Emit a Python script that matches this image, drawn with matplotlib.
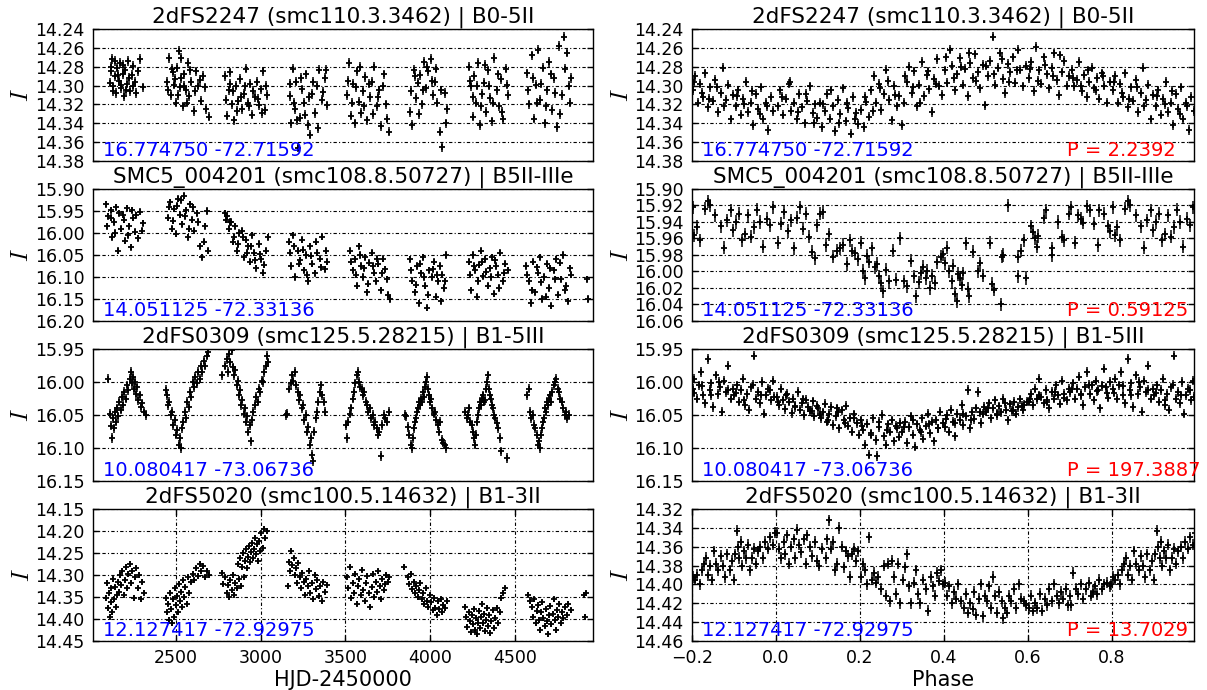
"""OGLE I-band light curves and phase-folded curves for four SMC B stars."""

import numpy as np
import matplotlib

matplotlib.use("Agg")
import matplotlib.pyplot as plt

plt.rcParams["font.family"] = ["DejaVu Sans"]
plt.rcParams["mathtext.fontset"] = "cm"

# ---------------------------------------------------------------------------
# 2dFS2247 (smc110.3.3462): (HJD-2450000, I) and (phase, I)
# ---------------------------------------------------------------------------
star1_lc = [
    (2112, 14.297), (2118, 14.285), (2125, 14.272), (2131, 14.301), (2140, 14.290), (2148, 14.308),
    (2155, 14.281), (2163, 14.295), (2170, 14.276), (2178, 14.303), (2186, 14.288), (2195, 14.311),
    (2203, 14.283), (2212, 14.298), (2220, 14.274), (2230, 14.306), (2240, 14.289), (2250, 14.279),
    (2262, 14.296), (2275, 14.285), (2290, 14.272), (2305, 14.302),
    (2115, 14.280), (2128, 14.306), (2144, 14.274), (2159, 14.289), (2174, 14.299), (2190, 14.278),
    (2208, 14.305), (2226, 14.292), (2245, 14.301), (2268, 14.308),
    (2450, 14.296), (2462, 14.271), (2470, 14.310), (2481, 14.286), (2490, 14.299), (2500, 14.318),
    (2508, 14.281), (2517, 14.263), (2525, 14.302), (2533, 14.292), (2541, 14.322), (2550, 14.288),
    (2560, 14.305), (2570, 14.276), (2580, 14.311), (2592, 14.296), (2605, 14.327), (2618, 14.285),
    (2632, 14.300), (2648, 14.316), (2662, 14.290), (2680, 14.325), (2693, 14.333),
    (2456, 14.305), (2476, 14.282), (2495, 14.293), (2512, 14.310), (2529, 14.271), (2546, 14.300),
    (2565, 14.318), (2586, 14.284), (2612, 14.306), (2640, 14.294), (2670, 14.302),
    (2790, 14.290), (2800, 14.332), (2812, 14.305), (2822, 14.286), (2833, 14.320), (2845, 14.337),
    (2856, 14.300), (2868, 14.316), (2880, 14.293), (2892, 14.325), (2904, 14.309), (2916, 14.282),
    (2928, 14.318), (2940, 14.298), (2952, 14.331), (2965, 14.312), (2978, 14.296), (2990, 14.321),
    (3002, 14.304), (3015, 14.285), (3028, 14.326), (3040, 14.310),
    (2795, 14.315), (2817, 14.298), (2838, 14.306), (2862, 14.327), (2886, 14.312), (2910, 14.301),
    (2934, 14.322), (2958, 14.306), (2984, 14.314), (3008, 14.329), (3034, 14.300),
    (3172, 14.311), (3180, 14.340), (3190, 14.282), (3200, 14.325), (3210, 14.296), (3222, 14.366),
    (3233, 14.334), (3245, 14.304), (3256, 14.318), (3268, 14.288), (3280, 14.342), (3292, 14.352),
    (3305, 14.309), (3318, 14.329), (3330, 14.300), (3345, 14.283), (3360, 14.315), (3378, 14.292),
    (3392, 14.321),
    (3176, 14.298), (3195, 14.318), (3216, 14.337), (3239, 14.292), (3262, 14.331), (3286, 14.312),
    (3311, 14.296), (3338, 14.345), (3368, 14.307), (3385, 14.283),
    (3510, 14.310), (3522, 14.276), (3533, 14.332), (3545, 14.298), (3556, 14.340), (3568, 14.285),
    (3580, 14.317), (3592, 14.329), (3605, 14.306), (3618, 14.291), (3630, 14.337), (3643, 14.312),
    (3656, 14.296), (3670, 14.280), (3684, 14.322), (3698, 14.305), (3712, 14.343), (3726, 14.288),
    (3740, 14.320), (3755, 14.349),
    (3516, 14.295), (3539, 14.318), (3562, 14.302), (3586, 14.280), (3611, 14.322), (3637, 14.298),
    (3663, 14.330), (3691, 14.312), (3719, 14.301), (3748, 14.335),
    (3880, 14.328), (3890, 14.342), (3902, 14.283), (3915, 14.313), (3928, 14.297), (3940, 14.289),
    (3952, 14.320), (3965, 14.275), (3978, 14.303), (3990, 14.285), (4002, 14.272), (4015, 14.310),
    (4028, 14.296), (4042, 14.318), (4056, 14.349), (4070, 14.365), (4085, 14.308), (4100, 14.325),
    (3885, 14.306), (3908, 14.290), (3934, 14.330), (3959, 14.305), (3984, 14.280), (4008, 14.295),
    (4035, 14.282), (4063, 14.305), (4092, 14.340),
    (4230, 14.280), (4240, 14.301), (4250, 14.333), (4260, 14.290), (4270, 14.318), (4280, 14.276),
    (4292, 14.342), (4304, 14.309), (4316, 14.297), (4328, 14.328), (4340, 14.284), (4352, 14.313),
    (4365, 14.338), (4378, 14.271), (4392, 14.305), (4405, 14.322), (4418, 14.293), (4432, 14.336),
    (4446, 14.282), (4460, 14.310),
    (4235, 14.295), (4255, 14.312), (4275, 14.300), (4298, 14.322), (4322, 14.278), (4346, 14.300),
    (4371, 14.318), (4398, 14.288), (4425, 14.328), (4453, 14.299),
    (4570, 14.287), (4585, 14.320), (4600, 14.268), (4612, 14.335), (4625, 14.299), (4638, 14.262),
    (4650, 14.315), (4663, 14.281), (4676, 14.340), (4690, 14.305), (4703, 14.275), (4716, 14.326),
    (4730, 14.292), (4745, 14.344), (4760, 14.258), (4775, 14.310), (4790, 14.248), (4805, 14.265),
    (4820, 14.300), (4832, 14.292),
    (4577, 14.305), (4605, 14.292), (4630, 14.318), (4656, 14.298), (4683, 14.322), (4710, 14.288),
    (4738, 14.308), (4767, 14.330), (4797, 14.282), (4826, 14.318),
]
star1_fold = [
    (0.004, 14.322), (0.010, 14.305), (0.017, 14.331), (0.023, 14.314), (0.030, 14.298), (0.036, 14.327),
    (0.042, 14.318), (0.049, 14.336), (0.055, 14.309), (0.061, 14.323), (0.068, 14.340), (0.074, 14.316),
    (0.080, 14.301), (0.087, 14.329), (0.093, 14.320), (0.098, 14.334),
    (0.104, 14.318), (0.110, 14.344), (0.116, 14.327), (0.122, 14.309), (0.129, 14.335), (0.135, 14.322),
    (0.141, 14.348), (0.147, 14.315), (0.153, 14.330), (0.160, 14.303), (0.166, 14.338), (0.172, 14.324),
    (0.178, 14.351), (0.184, 14.312), (0.190, 14.329), (0.196, 14.341),
    (0.203, 14.326), (0.209, 14.344), (0.215, 14.317), (0.221, 14.333), (0.227, 14.305), (0.233, 14.290),
    (0.239, 14.318), (0.245, 14.298), (0.251, 14.326), (0.257, 14.309), (0.263, 14.283), (0.269, 14.315),
    (0.275, 14.337), (0.281, 14.300), (0.287, 14.322), (0.293, 14.311), (0.299, 14.342),
    (0.305, 14.318), (0.311, 14.296), (0.317, 14.280), (0.323, 14.308), (0.329, 14.285), (0.335, 14.322),
    (0.341, 14.299), (0.347, 14.275), (0.353, 14.311), (0.359, 14.289), (0.365, 14.304), (0.371, 14.328),
    (0.377, 14.293), (0.383, 14.272), (0.389, 14.300), (0.395, 14.310),
    (0.402, 14.284), (0.408, 14.297), (0.414, 14.262), (0.420, 14.279), (0.426, 14.305), (0.432, 14.288),
    (0.438, 14.271), (0.444, 14.299), (0.450, 14.282), (0.456, 14.311), (0.462, 14.276), (0.468, 14.292),
    (0.474, 14.267), (0.480, 14.286), (0.486, 14.303), (0.492, 14.278), (0.498, 14.321),
    (0.504, 14.290), (0.510, 14.274), (0.516, 14.248), (0.522, 14.299), (0.528, 14.281), (0.534, 14.265),
    (0.540, 14.293), (0.546, 14.308), (0.552, 14.277), (0.558, 14.286), (0.564, 14.270), (0.570, 14.297),
    (0.576, 14.262), (0.582, 14.283), (0.588, 14.301), (0.594, 14.279),
    (0.602, 14.292), (0.608, 14.275), (0.614, 14.306), (0.620, 14.259), (0.626, 14.284), (0.632, 14.298),
    (0.638, 14.270), (0.644, 14.288), (0.650, 14.303), (0.656, 14.281), (0.662, 14.266), (0.668, 14.294),
    (0.674, 14.310), (0.680, 14.286), (0.686, 14.274), (0.692, 14.300), (0.698, 14.290),
    (0.704, 14.283), (0.710, 14.301), (0.716, 14.294), (0.722, 14.275), (0.728, 14.306), (0.734, 14.289),
    (0.740, 14.312), (0.746, 14.296), (0.752, 14.281), (0.758, 14.303), (0.764, 14.292), (0.770, 14.314),
    (0.776, 14.287), (0.782, 14.300), (0.788, 14.318), (0.794, 14.296),
    (0.802, 14.305), (0.808, 14.290), (0.814, 14.318), (0.820, 14.298), (0.826, 14.312), (0.832, 14.287),
    (0.838, 14.323), (0.844, 14.302), (0.850, 14.316), (0.856, 14.294), (0.862, 14.328), (0.868, 14.308),
    (0.874, 14.281), (0.880, 14.315), (0.886, 14.299), (0.892, 14.336), (0.898, 14.310),
    (0.904, 14.322), (0.910, 14.305), (0.916, 14.331), (0.922, 14.314), (0.928, 14.296), (0.934, 14.328),
    (0.940, 14.318), (0.946, 14.342), (0.952, 14.309), (0.958, 14.325), (0.964, 14.302), (0.970, 14.336),
    (0.976, 14.318), (0.982, 14.347), (0.988, 14.312), (0.994, 14.327),
    (0.014, 14.312), (0.033, 14.296), (0.052, 14.328), (0.071, 14.309), (0.090, 14.340),
    (0.113, 14.320), (0.132, 14.305), (0.151, 14.340), (0.169, 14.318), (0.188, 14.335),
    (0.212, 14.312), (0.230, 14.327), (0.248, 14.303), (0.266, 14.295), (0.284, 14.310),
    (0.308, 14.290), (0.326, 14.302), (0.344, 14.318), (0.362, 14.285), (0.380, 14.298),
    (0.405, 14.270), (0.423, 14.292), (0.441, 14.280), (0.459, 14.266), (0.477, 14.295),
    (0.501, 14.279), (0.519, 14.288), (0.537, 14.272), (0.555, 14.296), (0.573, 14.284),
    (0.605, 14.282), (0.623, 14.295), (0.641, 14.278), (0.659, 14.290), (0.677, 14.268),
    (0.707, 14.292), (0.725, 14.300), (0.743, 14.284), (0.761, 14.305), (0.779, 14.290),
    (0.805, 14.296), (0.823, 14.308), (0.841, 14.314), (0.859, 14.302), (0.877, 14.322),
    (0.907, 14.311), (0.925, 14.320), (0.943, 14.306), (0.961, 14.330), (0.979, 14.322),
]

# ---------------------------------------------------------------------------
# SMC5_004201 (smc108.8.50727)
# ---------------------------------------------------------------------------
star2_lc = [
    (2090, 15.935), (2102, 15.962), (2115, 15.948), (2126, 16.010), (2138, 15.975), (2150, 15.942),
    (2162, 16.040), (2174, 15.990), (2186, 15.958), (2198, 16.018), (2210, 15.944), (2222, 15.985),
    (2235, 16.032), (2248, 15.965), (2262, 15.997), (2276, 16.012), (2290, 15.952), (2305, 15.978),
    (2096, 15.985), (2120, 15.965), (2144, 16.000), (2168, 15.955), (2192, 15.970), (2216, 16.005),
    (2242, 15.948), (2268, 15.960), (2298, 15.995),
    (2452, 15.965), (2465, 15.930), (2476, 15.990), (2488, 15.945), (2500, 16.002), (2512, 15.922),
    (2524, 15.958), (2536, 15.980), (2548, 15.915), (2560, 15.948), (2572, 16.010), (2584, 15.935),
    (2596, 15.970), (2610, 15.995), (2625, 15.955), (2640, 16.030), (2656, 16.055), (2672, 15.985),
    (2690, 16.040),
    (2458, 15.940), (2482, 15.972), (2506, 15.938), (2530, 15.925), (2554, 15.962), (2578, 15.990),
    (2603, 15.942), (2632, 15.975), (2664, 16.020), (2682, 15.950),
    (2788, 15.955), (2800, 15.962), (2812, 15.990), (2825, 15.975), (2838, 16.020), (2850, 15.985),
    (2862, 16.040), (2875, 16.000), (2888, 15.995), (2900, 16.055), (2912, 16.015), (2925, 16.030),
    (2938, 16.065), (2950, 16.005), (2962, 16.045), (2975, 16.080), (2988, 16.025), (3000, 16.060),
    (3015, 16.090), (3030, 16.040), (3042, 16.010),
    (2794, 15.970), (2818, 15.975), (2843, 16.008), (2869, 16.025), (2894, 16.010), (2918, 16.045),
    (2944, 16.030), (2968, 16.062), (2994, 16.048), (3022, 16.072),
    (3168, 16.020), (3180, 16.075), (3192, 16.005), (3205, 16.100), (3218, 16.040), (3230, 16.062),
    (3242, 16.015), (3255, 16.085), (3268, 16.050), (3280, 16.110), (3292, 16.030), (3305, 16.070),
    (3320, 16.092), (3335, 16.045), (3350, 16.058), (3365, 16.008), (3380, 16.082), (3392, 16.065),
    (3174, 16.045), (3198, 16.030), (3224, 16.070), (3248, 16.038), (3274, 16.095), (3298, 16.052),
    (3328, 16.020), (3358, 16.078), (3386, 16.040),
    (3530, 16.040), (3542, 16.085), (3555, 16.060), (3568, 16.120), (3580, 16.030), (3592, 16.075),
    (3605, 16.100), (3618, 16.055), (3630, 16.135), (3642, 16.068), (3655, 16.045), (3668, 16.090),
    (3680, 16.110), (3694, 16.070), (3708, 16.130), (3722, 16.058), (3736, 16.082), (3750, 16.140),
    (3762, 16.150),
    (3536, 16.065), (3561, 16.095), (3586, 16.050), (3612, 16.080), (3636, 16.115), (3661, 16.075),
    (3688, 16.058), (3715, 16.092), (3743, 16.105),
    (3882, 16.060), (3895, 16.108), (3908, 16.135), (3920, 16.075), (3932, 16.160), (3945, 16.092),
    (3958, 16.055), (3970, 16.120), (3982, 16.170), (3995, 16.085), (4008, 16.100), (4020, 16.065),
    (4032, 16.145), (4045, 16.110), (4058, 16.075), (4070, 16.095), (4082, 16.125), (4095, 16.050),
    (3888, 16.085), (3914, 16.118), (3939, 16.070), (3964, 16.100), (3989, 16.140), (4014, 16.082),
    (4039, 16.095), (4064, 16.155), (4089, 16.110),
    (4228, 16.065), (4240, 16.130), (4252, 16.050), (4264, 16.085), (4276, 16.145), (4288, 16.072),
    (4300, 16.040), (4312, 16.098), (4325, 16.060), (4338, 16.120), (4350, 16.080), (4362, 16.055),
    (4375, 16.138), (4388, 16.075), (4400, 16.095), (4414, 16.045), (4428, 16.110), (4442, 16.070),
    (4456, 16.085),
    (4234, 16.095), (4258, 16.075), (4282, 16.110), (4306, 16.065), (4331, 16.088), (4356, 16.100),
    (4381, 16.062), (4407, 16.125), (4435, 16.090),
    (4566, 16.075), (4580, 16.110), (4595, 16.160), (4608, 16.065), (4620, 16.135), (4633, 16.090),
    (4646, 16.055), (4660, 16.150), (4674, 16.100), (4688, 16.070), (4700, 16.125), (4714, 16.165),
    (4728, 16.085), (4742, 16.060), (4756, 16.140), (4770, 16.105), (4785, 16.050), (4800, 16.120),
    (4815, 16.155), (4830, 16.095), (4925, 16.105), (4928, 16.150),
    (4573, 16.095), (4601, 16.130), (4627, 16.078), (4653, 16.112), (4681, 16.145), (4707, 16.080),
    (4735, 16.105), (4763, 16.068), (4792, 16.130), (4822, 16.080),
]
star2_fold = [
    (0.005, 15.965), (0.012, 15.942), (0.020, 15.928), (0.028, 15.951), (0.035, 15.938), (0.043, 15.972),
    (0.050, 15.935), (0.056, 15.922), (0.064, 15.948), (0.071, 15.930), (0.078, 15.958), (0.086, 15.976),
    (0.092, 15.984), (0.098, 15.944),
    (0.105, 15.930), (0.112, 15.928), (0.118, 15.968), (0.126, 15.955), (0.135, 15.982), (0.145, 15.975),
    (0.152, 15.972), (0.160, 15.968), (0.168, 15.991), (0.175, 15.962), (0.182, 15.975), (0.188, 15.978),
    (0.195, 15.985),
    (0.202, 15.965), (0.208, 15.999), (0.212, 16.008), (0.216, 15.981), (0.222, 15.988), (0.228, 15.972),
    (0.236, 15.995), (0.241, 15.991), (0.246, 16.006), (0.250, 16.014), (0.255, 16.024), (0.262, 15.998),
    (0.270, 16.012), (0.279, 15.975), (0.286, 16.010), (0.295, 15.960),
    (0.305, 16.012), (0.312, 16.018), (0.322, 15.987), (0.328, 16.006), (0.333, 16.030), (0.340, 16.013),
    (0.345, 16.002), (0.350, 15.994), (0.356, 16.008), (0.360, 15.999), (0.366, 16.020), (0.372, 16.005),
    (0.378, 16.014), (0.384, 15.989), (0.392, 15.982), (0.398, 15.979),
    (0.403, 15.990), (0.408, 15.971), (0.412, 16.000), (0.418, 16.012), (0.421, 15.993), (0.426, 16.027),
    (0.430, 16.036), (0.434, 16.003), (0.438, 16.008), (0.442, 16.016), (0.446, 16.002), (0.452, 15.966),
    (0.456, 16.021), (0.460, 16.030), (0.468, 15.976), (0.480, 16.000), (0.485, 15.990), (0.492, 16.005),
    (0.510, 15.965), (0.514, 16.015), (0.518, 16.022), (0.535, 16.040), (0.538, 15.982), (0.540, 15.980),
    (0.552, 15.920), (0.575, 16.006), (0.576, 15.982), (0.584, 15.975), (0.590, 15.962), (0.596, 16.008),
    (0.608, 15.945), (0.612, 15.952), (0.616, 15.960), (0.621, 15.970), (0.624, 15.957), (0.638, 15.935),
    (0.643, 15.926), (0.656, 15.972), (0.657, 15.980), (0.672, 15.940), (0.680, 15.958), (0.685, 15.962),
    (0.698, 15.930),
    (0.702, 15.922), (0.712, 15.965), (0.718, 15.932), (0.726, 15.936), (0.732, 15.941), (0.740, 15.921),
    (0.748, 15.926), (0.756, 15.942), (0.766, 15.968), (0.770, 15.926), (0.782, 15.930), (0.790, 15.945),
    (0.795, 15.951),
    (0.802, 15.922), (0.806, 15.956), (0.812, 15.946), (0.820, 15.962), (0.830, 15.924), (0.838, 15.915),
    (0.843, 15.920), (0.856, 15.932), (0.868, 15.945), (0.876, 15.971), (0.884, 15.938), (0.892, 15.926),
    (0.898, 15.950),
    (0.905, 15.940), (0.912, 15.930), (0.920, 15.962), (0.926, 15.955), (0.933, 15.932), (0.940, 15.958),
    (0.948, 15.946), (0.955, 15.925), (0.962, 15.940), (0.970, 15.970), (0.978, 15.936), (0.985, 15.944),
    (0.992, 15.922),
]

# ---------------------------------------------------------------------------
# 2dFS0309 (smc125.5.28215)
# ---------------------------------------------------------------------------
star3_lc = [
    (2099, 15.995), (2110, 16.048), (2116, 16.066), (2122, 16.085), (2128, 16.055), (2134, 16.070),
    (2140, 16.045), (2146, 16.060), (2153, 16.040), (2160, 16.052), (2167, 16.030), (2174, 16.042),
    (2181, 16.022), (2188, 16.035), (2196, 16.015), (2204, 16.025), (2212, 16.005), (2220, 16.012),
    (2228, 15.995), (2234, 15.985), (2240, 16.002), (2246, 15.992), (2252, 16.010), (2258, 16.000),
    (2264, 16.018), (2270, 16.008), (2278, 16.028), (2286, 16.020), (2294, 16.038), (2302, 16.032),
    (2312, 16.045), (2322, 16.050),
    (2440, 16.012), (2447, 16.020), (2454, 16.035), (2462, 16.030), (2470, 16.050), (2478, 16.045),
    (2486, 16.065), (2494, 16.058), (2502, 16.080), (2510, 16.072), (2518, 16.095), (2524, 16.085),
    (2530, 16.100), (2538, 16.070), (2545, 16.060), (2552, 16.045), (2560, 16.055), (2568, 16.030),
    (2576, 16.038), (2584, 16.015), (2592, 16.022), (2600, 16.000), (2608, 16.008), (2616, 15.992),
    (2624, 16.002), (2632, 15.985), (2640, 15.995), (2648, 15.975), (2656, 15.985), (2664, 15.968),
    (2672, 15.975), (2682, 15.960), (2692, 15.955),
    (2770, 15.990), (2790, 15.975), (2800, 15.965), (2808, 15.985), (2815, 15.958), (2822, 15.970),
    (2830, 15.952), (2837, 15.978), (2844, 15.990), (2851, 15.982), (2858, 16.005), (2865, 15.998),
    (2872, 16.020), (2879, 16.012), (2886, 16.035), (2893, 16.028), (2900, 16.048), (2907, 16.040),
    (2914, 16.060), (2921, 16.052), (2928, 16.075), (2935, 16.065), (2942, 16.090), (2950, 16.058),
    (2958, 16.045), (2966, 16.035), (2974, 16.022), (2982, 16.030), (2990, 16.010), (2998, 16.015),
    (3006, 15.998), (3014, 16.000), (3022, 15.985), (3030, 15.975), (3038, 15.960), (3045, 15.970),
    (3150, 16.050), (3158, 16.048), (3170, 16.010), (3178, 16.002), (3186, 15.990), (3194, 15.998),
    (3202, 15.985), (3210, 16.005), (3218, 16.015), (3226, 16.028), (3234, 16.020), (3242, 16.040),
    (3250, 16.035), (3258, 16.058), (3266, 16.050), (3274, 16.075), (3282, 16.068), (3290, 16.095),
    (3296, 16.085), (3302, 16.110), (3308, 16.120), (3316, 16.075), (3324, 16.055), (3332, 16.045),
    (3340, 16.030), (3348, 16.015), (3356, 16.005), (3364, 16.020), (3372, 16.030), (3380, 16.045),
    (3505, 16.065), (3510, 16.085), (3518, 16.060), (3526, 16.048), (3534, 16.040), (3542, 16.025),
    (3550, 16.015), (3558, 16.002), (3566, 15.990), (3572, 15.985), (3580, 16.000), (3588, 16.008),
    (3596, 16.010), (3604, 16.020), (3612, 16.015), (3620, 16.030), (3628, 16.035), (3636, 16.045),
    (3644, 16.040), (3652, 16.055), (3660, 16.050), (3668, 16.065), (3676, 16.060), (3684, 16.070),
    (3692, 16.080), (3700, 16.075), (3708, 16.112), (3716, 16.065), (3726, 16.050), (3736, 16.055),
    (3748, 16.060), (3760, 16.045),
    (3850, 16.050), (3860, 16.052), (3870, 16.068), (3878, 16.080), (3884, 16.095), (3890, 16.100),
    (3896, 16.085), (3902, 16.070), (3908, 16.060), (3914, 16.055), (3920, 16.045), (3926, 16.040),
    (3932, 16.030), (3938, 16.035), (3944, 16.025), (3950, 16.030), (3956, 16.015), (3962, 16.022),
    (3968, 16.008), (3974, 16.000), (3980, 15.992), (3986, 16.010), (3992, 16.020), (3998, 16.030),
    (4004, 16.025), (4012, 16.040), (4020, 16.048), (4028, 16.045), (4036, 16.058), (4044, 16.065),
    (4052, 16.075), (4060, 16.060), (4068, 16.088), (4076, 16.092), (4085, 16.095), (4092, 16.100),
    (4208, 16.045), (4215, 16.055), (4222, 16.050), (4228, 16.040), (4236, 16.060), (4244, 16.065),
    (4250, 16.075), (4256, 16.085), (4262, 16.095), (4268, 16.080), (4274, 16.060), (4280, 16.050),
    (4286, 16.040), (4292, 16.030), (4298, 16.035), (4304, 16.025), (4310, 16.020), (4316, 16.030),
    (4322, 16.028), (4328, 16.010), (4334, 16.000), (4340, 15.990), (4346, 16.010), (4352, 16.020),
    (4358, 16.025), (4364, 16.035), (4370, 16.040), (4376, 16.050), (4384, 16.055), (4392, 16.062),
    (4400, 16.070), (4410, 16.085), (4420, 16.105), (4450, 16.115),
    (4570, 16.020), (4580, 16.010), (4588, 16.045), (4596, 16.055), (4604, 16.050), (4612, 16.065),
    (4620, 16.070), (4628, 16.080), (4636, 16.095), (4642, 16.090), (4648, 16.100), (4654, 16.080),
    (4660, 16.070), (4666, 16.060), (4672, 16.055), (4678, 16.040), (4684, 16.045), (4690, 16.030),
    (4696, 16.035), (4702, 16.025), (4708, 16.020), (4714, 16.030), (4720, 16.015), (4728, 16.005),
    (4736, 16.000), (4744, 15.995), (4752, 16.010), (4760, 16.015), (4768, 16.025), (4776, 16.030),
    (4784, 16.040), (4792, 16.050), (4800, 16.045), (4808, 16.055), (4818, 16.050),
]
star3_fold_phase = [
    0.002, 0.007, 0.011, 0.016, 0.022, 0.026, 0.031, 0.037, 0.041, 0.046,
    0.052, 0.057, 0.061, 0.067, 0.072, 0.076, 0.082, 0.087, 0.091, 0.097,
    0.101, 0.106, 0.112, 0.117, 0.121, 0.127, 0.132, 0.136, 0.142, 0.147,
    0.151, 0.156, 0.162, 0.167, 0.171, 0.177, 0.182, 0.186, 0.192, 0.197,
    0.202, 0.206, 0.211, 0.217, 0.222, 0.226, 0.232, 0.237, 0.241, 0.246,
    0.252, 0.257, 0.261, 0.267, 0.272, 0.276, 0.281, 0.287, 0.292, 0.296,
    0.301, 0.307, 0.312, 0.316, 0.321, 0.327, 0.332, 0.336, 0.342, 0.347,
    0.351, 0.356, 0.362, 0.367, 0.371, 0.377, 0.382, 0.386, 0.391, 0.397,
    0.402, 0.406, 0.411, 0.417, 0.422, 0.426, 0.431, 0.437, 0.442, 0.446,
    0.452, 0.457, 0.461, 0.466, 0.472, 0.477, 0.481, 0.487, 0.492, 0.496,
    0.501, 0.507, 0.512, 0.516, 0.521, 0.527, 0.532, 0.536, 0.541, 0.547,
    0.552, 0.556, 0.562, 0.567, 0.571, 0.576, 0.582, 0.587, 0.591, 0.597,
    0.602, 0.606, 0.611, 0.617, 0.622, 0.626, 0.631, 0.637, 0.642, 0.646,
    0.651, 0.657, 0.662, 0.666, 0.672, 0.677, 0.681, 0.686, 0.692, 0.697,
    0.701, 0.707, 0.712, 0.716, 0.721, 0.727, 0.732, 0.736, 0.741, 0.747,
    0.752, 0.756, 0.761, 0.767, 0.772, 0.776, 0.782, 0.787, 0.791, 0.796,
    0.802, 0.806, 0.811, 0.817, 0.822, 0.826, 0.831, 0.837, 0.842, 0.846,
    0.851, 0.857, 0.862, 0.866, 0.871, 0.877, 0.882, 0.886, 0.892, 0.897,
    0.901, 0.907, 0.912, 0.916, 0.921, 0.927, 0.932, 0.936, 0.941, 0.947,
    0.952, 0.956, 0.961, 0.967, 0.972, 0.976, 0.981, 0.987, 0.992, 0.996,
    0.005, 0.025, 0.045, 0.065, 0.085, 0.105, 0.125, 0.145, 0.165, 0.185,
    0.205, 0.225, 0.245, 0.265, 0.285, 0.305, 0.325, 0.345, 0.365, 0.385,
    0.405, 0.425, 0.445, 0.465, 0.485, 0.505, 0.525, 0.545, 0.565, 0.585,
    0.605, 0.625, 0.645, 0.665, 0.685, 0.705, 0.725, 0.745, 0.765, 0.785,
    0.805, 0.825, 0.845, 0.865, 0.885, 0.905, 0.925, 0.945, 0.965, 0.985,
]
star3_fold_mag = [
    16.022, 16.035, 16.010, 16.028, 16.041, 16.018, 16.030, 16.047, 16.025, 16.036,
    16.015, 16.042, 16.032, 16.050, 16.027, 16.038, 16.044, 16.029, 16.052, 16.036,
    16.040, 16.055, 16.046, 16.033, 16.060, 16.048, 16.038, 16.065, 16.052, 16.045,
    16.070, 16.043, 16.058, 16.036, 16.066, 16.054, 16.075, 16.049, 16.062, 16.080,
    16.058, 16.072, 16.095, 16.063, 16.110, 16.078, 16.055, 16.088, 16.112, 16.068,
    16.050, 16.082, 16.095, 16.064, 16.075, 16.058, 16.090, 16.070, 16.083, 16.062,
    16.075, 16.060, 16.092, 16.068, 16.052, 16.080, 16.098, 16.064, 16.072, 16.055,
    16.086, 16.066, 16.048, 16.078, 16.060, 16.090, 16.058, 16.070, 16.045, 16.062,
    16.068, 16.050, 16.075, 16.042, 16.060, 16.082, 16.048, 16.058, 16.035, 16.065,
    16.052, 16.012, 16.070, 16.045, 16.056, 16.040, 16.015, 16.062, 16.048, 16.038,
    16.045, 16.032, 16.055, 16.040, 16.028, 16.050, 16.037, 16.046, 16.025, 16.042,
    16.058, 16.034, 16.044, 16.030, 16.048, 16.038, 16.026, 16.042, 16.035, 16.030,
    16.030, 16.018, 16.035, 16.010, 16.026, 15.995, 16.022, 16.032, 16.012, 16.028,
    16.040, 16.015, 16.025, 16.005, 16.020, 16.033, 15.998, 16.018, 16.028, 16.010,
    16.015, 16.002, 16.025, 16.010, 15.992, 16.020, 16.035, 16.008, 15.985, 16.018,
    16.005, 16.028, 15.998, 16.012, 16.040, 16.006, 15.980, 16.016, 16.024, 16.000,
    16.010, 15.995, 16.025, 16.005, 15.985, 16.020, 16.032, 15.965, 16.012, 16.002,
    16.038, 15.990, 16.018, 16.008, 16.045, 15.998, 16.015, 15.975, 16.025, 16.010,
    16.020, 16.005, 16.030, 16.012, 15.995, 16.035, 16.018, 16.042, 16.008, 15.960,
    16.025, 16.015, 16.032, 16.000, 16.048, 16.020, 16.010, 16.028, 15.998, 16.022,
    16.030, 16.020, 16.038, 16.026, 16.044, 16.048, 16.058, 16.040, 16.062, 16.055,
    16.066, 16.080, 16.060, 16.072, 16.066, 16.068, 16.058, 16.076, 16.064, 16.070,
    16.056, 16.062, 16.048, 16.058, 16.046, 16.040, 16.048, 16.032, 16.042, 16.036,
    16.025, 16.020, 16.030, 16.015, 16.024, 16.010, 16.018, 16.004, 16.014, 16.008,
    16.016, 16.006, 16.020, 16.000, 16.012, 16.016, 16.028, 16.004, 16.020, 16.012,
]

# ---------------------------------------------------------------------------
# 2dFS5020 (smc100.5.14632)
# ---------------------------------------------------------------------------
star4_lc = [
    (2090, 14.352), (2095, 14.318), (2100, 14.375), (2105, 14.340), (2110, 14.395), (2115, 14.362),
    (2120, 14.330), (2125, 14.385), (2130, 14.310), (2136, 14.355), (2142, 14.328), (2148, 14.372),
    (2154, 14.345), (2160, 14.315), (2166, 14.338), (2172, 14.300), (2178, 14.322), (2185, 14.290),
    (2192, 14.345), (2198, 14.312), (2205, 14.282), (2212, 14.330), (2220, 14.298), (2228, 14.275),
    (2236, 14.318), (2244, 14.290), (2252, 14.352), (2260, 14.305), (2268, 14.285), (2276, 14.330),
    (2284, 14.300), (2292, 14.355), (2300, 14.315), (2310, 14.340),
    (2440, 14.352), (2446, 14.385), (2452, 14.365), (2458, 14.402), (2464, 14.340), (2470, 14.378),
    (2476, 14.410), (2482, 14.355), (2488, 14.395), (2494, 14.330), (2500, 14.368), (2506, 14.348),
    (2512, 14.385), (2518, 14.320), (2524, 14.360), (2530, 14.338), (2536, 14.372), (2542, 14.312),
    (2548, 14.350), (2556, 14.328), (2564, 14.365), (2572, 14.305), (2580, 14.340), (2590, 14.315),
    (2600, 14.298), (2610, 14.312), (2620, 14.285), (2630, 14.302), (2640, 14.275), (2650, 14.292),
    (2660, 14.280), (2672, 14.305), (2684, 14.290), (2694, 14.300),
    (2770, 14.295), (2780, 14.320), (2790, 14.305), (2800, 14.340), (2808, 14.322), (2815, 14.350),
    (2822, 14.312), (2830, 14.335), (2838, 14.300), (2845, 14.345), (2852, 14.318), (2860, 14.330),
    (2866, 14.275), (2872, 14.310), (2878, 14.262), (2884, 14.325), (2890, 14.282), (2896, 14.250),
    (2902, 14.305), (2908, 14.268), (2914, 14.240), (2920, 14.285), (2926, 14.258), (2932, 14.235),
    (2938, 14.270), (2944, 14.248), (2950, 14.228), (2956, 14.262), (2962, 14.240), (2968, 14.215),
    (2974, 14.252), (2980, 14.230), (2986, 14.268), (2992, 14.222), (2998, 14.245), (3005, 14.205),
    (3012, 14.238), (3020, 14.195), (3028, 14.215), (3036, 14.200),
    (3160, 14.325), (3168, 14.270), (3175, 14.292), (3182, 14.245), (3188, 14.278), (3195, 14.262),
    (3202, 14.300), (3208, 14.285), (3215, 14.318), (3222, 14.272), (3230, 14.305), (3238, 14.330),
    (3246, 14.295), (3254, 14.315), (3262, 14.345), (3270, 14.308), (3278, 14.325), (3286, 14.290),
    (3294, 14.340), (3302, 14.318), (3310, 14.355), (3318, 14.300), (3326, 14.332), (3334, 14.312),
    (3342, 14.348), (3350, 14.325), (3360, 14.360), (3370, 14.315), (3380, 14.338), (3392, 14.322),
    (3510, 14.305), (3518, 14.330), (3526, 14.282), (3534, 14.352), (3542, 14.318), (3550, 14.340),
    (3558, 14.298), (3566, 14.365), (3574, 14.325), (3582, 14.310), (3590, 14.345), (3598, 14.288),
    (3606, 14.335), (3614, 14.360), (3622, 14.318), (3630, 14.302), (3638, 14.342), (3646, 14.372),
    (3654, 14.328), (3662, 14.298), (3670, 14.350), (3678, 14.315), (3686, 14.338), (3694, 14.292),
    (3702, 14.325), (3710, 14.355), (3718, 14.308), (3726, 14.335), (3734, 14.320), (3742, 14.300),
    (3750, 14.315), (3760, 14.305),
    (3848, 14.282), (3870, 14.305), (3878, 14.320), (3886, 14.298), (3894, 14.332), (3902, 14.315),
    (3910, 14.340), (3918, 14.325), (3926, 14.350), (3934, 14.335), (3942, 14.318), (3950, 14.355),
    (3958, 14.342), (3966, 14.365), (3974, 14.330), (3982, 14.358), (3990, 14.372), (3998, 14.345),
    (4006, 14.362), (4014, 14.380), (4022, 14.352), (4030, 14.375), (4038, 14.390), (4046, 14.360),
    (4054, 14.378), (4062, 14.355), (4070, 14.385), (4078, 14.368), (4088, 14.375), (4098, 14.360),
    (4208, 14.372), (4214, 14.395), (4220, 14.418), (4226, 14.385), (4232, 14.405), (4238, 14.430),
    (4244, 14.392), (4250, 14.412), (4256, 14.378), (4262, 14.425), (4268, 14.398), (4274, 14.435),
    (4280, 14.408), (4286, 14.382), (4292, 14.420), (4298, 14.395), (4304, 14.365), (4310, 14.410),
    (4316, 14.388), (4322, 14.428), (4328, 14.402), (4334, 14.375), (4340, 14.415), (4346, 14.392),
    (4352, 14.432), (4360, 14.405), (4368, 14.380), (4376, 14.420), (4384, 14.398), (4392, 14.375),
    (4400, 14.410), (4410, 14.385), (4420, 14.352), (4430, 14.340), (4440, 14.330),
    (4578, 14.345), (4590, 14.360), (4600, 14.372), (4608, 14.395), (4615, 14.355), (4622, 14.410),
    (4628, 14.382), (4635, 14.368), (4642, 14.402), (4648, 14.425), (4655, 14.385), (4662, 14.362),
    (4668, 14.398), (4675, 14.415), (4682, 14.378), (4688, 14.405), (4695, 14.435), (4702, 14.392),
    (4708, 14.370), (4715, 14.412), (4722, 14.388), (4728, 14.355), (4735, 14.402), (4742, 14.425),
    (4748, 14.380), (4755, 14.395), (4762, 14.365), (4770, 14.410), (4778, 14.385), (4786, 14.398),
    (4795, 14.372), (4805, 14.390), (4815, 14.365), (4830, 14.380),
    (4905, 14.345), (4912, 14.395), (4918, 14.342),
]
star4_fold = [
    (0.003, 14.345), (0.008, 14.362), (0.012, 14.372), (0.018, 14.355), (0.022, 14.368), (0.027, 14.348),
    (0.032, 14.378), (0.036, 14.360), (0.042, 14.352), (0.046, 14.372), (0.051, 14.342), (0.055, 14.358),
    (0.060, 14.366), (0.066, 14.352), (0.071, 14.378), (0.075, 14.348), (0.081, 14.360), (0.086, 14.370),
    (0.092, 14.355), (0.097, 14.375),
    (0.103, 14.380), (0.110, 14.362), (0.118, 14.372), (0.122, 14.352), (0.127, 14.332), (0.131, 14.362),
    (0.136, 14.355), (0.141, 14.385), (0.146, 14.378), (0.150, 14.340), (0.156, 14.360), (0.161, 14.382),
    (0.166, 14.365), (0.171, 14.370), (0.175, 14.392), (0.180, 14.368), (0.185, 14.362), (0.190, 14.375),
    (0.196, 14.365),
    (0.203, 14.392), (0.207, 14.378), (0.212, 14.385), (0.216, 14.400), (0.222, 14.350), (0.228, 14.395),
    (0.233, 14.388), (0.238, 14.398), (0.244, 14.392), (0.250, 14.405), (0.256, 14.380), (0.262, 14.412),
    (0.267, 14.378), (0.272, 14.418), (0.277, 14.375), (0.282, 14.392), (0.286, 14.410), (0.291, 14.378),
    (0.296, 14.420),
    (0.302, 14.395), (0.307, 14.382), (0.312, 14.368), (0.317, 14.402), (0.322, 14.420), (0.328, 14.398),
    (0.333, 14.385), (0.338, 14.410), (0.344, 14.420), (0.350, 14.395), (0.356, 14.405), (0.362, 14.428),
    (0.368, 14.392), (0.373, 14.402), (0.378, 14.412), (0.383, 14.388), (0.388, 14.396), (0.393, 14.385),
    (0.398, 14.400),
    (0.403, 14.398), (0.408, 14.412), (0.413, 14.402), (0.418, 14.420), (0.423, 14.408), (0.428, 14.415),
    (0.433, 14.400), (0.440, 14.418), (0.447, 14.425), (0.452, 14.410), (0.458, 14.430), (0.463, 14.420),
    (0.468, 14.426), (0.472, 14.408), (0.477, 14.432), (0.483, 14.415), (0.488, 14.400), (0.493, 14.434),
    (0.498, 14.412),
    (0.503, 14.418), (0.508, 14.402), (0.512, 14.425), (0.517, 14.392), (0.522, 14.412), (0.527, 14.430),
    (0.532, 14.408), (0.537, 14.418), (0.541, 14.436), (0.545, 14.425), (0.550, 14.430), (0.555, 14.412),
    (0.560, 14.418), (0.566, 14.405), (0.572, 14.425), (0.578, 14.400), (0.584, 14.415), (0.590, 14.418),
    (0.596, 14.422),
    (0.602, 14.425), (0.607, 14.412), (0.612, 14.428), (0.617, 14.420), (0.622, 14.425), (0.628, 14.410),
    (0.634, 14.428), (0.640, 14.415), (0.645, 14.422), (0.650, 14.405), (0.656, 14.418), (0.662, 14.400),
    (0.668, 14.412), (0.673, 14.420), (0.678, 14.408), (0.684, 14.415), (0.690, 14.405), (0.695, 14.422),
    (0.699, 14.412),
    (0.703, 14.422), (0.708, 14.388), (0.713, 14.405), (0.720, 14.410), (0.726, 14.400), (0.732, 14.415),
    (0.738, 14.405), (0.744, 14.398), (0.750, 14.412), (0.755, 14.408), (0.760, 14.402), (0.765, 14.410),
    (0.770, 14.395), (0.776, 14.405), (0.782, 14.400), (0.788, 14.398), (0.794, 14.402), (0.798, 14.400),
    (0.803, 14.392), (0.808, 14.395), (0.813, 14.390), (0.818, 14.400), (0.823, 14.385), (0.828, 14.378),
    (0.833, 14.372), (0.838, 14.390), (0.843, 14.380), (0.848, 14.395), (0.853, 14.365), (0.858, 14.378),
    (0.863, 14.385), (0.868, 14.370), (0.873, 14.380), (0.878, 14.392), (0.884, 14.368), (0.890, 14.385),
    (0.895, 14.375), (0.899, 14.395),
    (0.903, 14.368), (0.906, 14.343), (0.909, 14.360), (0.913, 14.372), (0.917, 14.355), (0.920, 14.380),
    (0.924, 14.365), (0.928, 14.372), (0.933, 14.358), (0.938, 14.385), (0.943, 14.372), (0.948, 14.362),
    (0.953, 14.378), (0.958, 14.365), (0.963, 14.360), (0.968, 14.372), (0.974, 14.355), (0.980, 14.362),
    (0.986, 14.350), (0.992, 14.358), (0.997, 14.345),
]

# per-star labels, coordinates, periods and typical photometric error
titles = [
    "2dFS2247 (smc110.3.3462) | B0-5II",
    "SMC5_004201 (smc108.8.50727) | B5II-IIIe",
    "2dFS0309 (smc125.5.28215) | B1-5III",
    "2dFS5020 (smc100.5.14632) | B1-3II",
]
coords = ["16.774750 -72.71592", "14.051125 -72.33136",
          "10.080417 -73.06736", "12.127417 -72.92975"]
periods = ["2.2392", "0.59125", "197.3887", "13.7029"]
mag_err = [0.005, 0.008, 0.007, 0.006]

lc_ticks = [
    [14.24, 14.26, 14.28, 14.30, 14.32, 14.34, 14.36, 14.38],
    [15.90, 15.95, 16.00, 16.05, 16.10, 16.15, 16.20],
    [15.95, 16.00, 16.05, 16.10, 16.15],
    [14.15, 14.20, 14.25, 14.30, 14.35, 14.40, 14.45],
]
fold_ticks = [
    [14.24, 14.26, 14.28, 14.30, 14.32, 14.34, 14.36, 14.38],
    [15.90, 15.92, 15.94, 15.96, 15.98, 16.00, 16.02, 16.04, 16.06],
    [15.95, 16.00, 16.05, 16.10, 16.15],
    [14.32, 14.34, 14.36, 14.38, 14.40, 14.42, 14.44, 14.46],
]
hjd_ticks = [2500, 3000, 3500, 4000, 4500]
phase_ticks = [-0.2, 0.0, 0.2, 0.4, 0.6, 0.8]

light_curves = [np.array(star1_lc).T, np.array(star2_lc).T,
                np.array(star3_lc).T, np.array(star4_lc).T]
folded = [np.array(star1_fold).T, np.array(star2_fold).T,
          np.array([star3_fold_phase, star3_fold_mag]), np.array(star4_fold).T]


def wrap_phase(phase, mag):
    """Repeat the last part of the cycle before phase 0."""
    sel = phase > 0.8
    return (np.concatenate([phase[sel] - 1.0, phase]),
            np.concatenate([mag[sel], mag]))


def style_axes(ax, ticks):
    ax.set_ylim(ticks[-1], ticks[0])
    ax.set_yticks(ticks)
    ax.set_yticklabels([f"{t:.2f}" for t in ticks])
    ax.tick_params(direction="in", length=4, width=1, labelsize=12.5, pad=6,
                   left=True, right=True, top=True, bottom=True)
    ax.grid(True, axis="y", color="k", linewidth=0.8, linestyle=(0, (3, 2, 1, 2)))
    for sp in ax.spines.values():
        sp.set_linewidth(1.0)
    ax.set_ylabel("$I$", fontsize=17, labelpad=1)


def draw_points(ax, x, y, err):
    ax.errorbar(x, y, yerr=err, fmt="+", color="k", ms=5, mew=1.3,
                elinewidth=1.1, capsize=0)


fig = plt.figure(figsize=(12.07, 6.9), dpi=100)
bottoms = [0.7667, 0.5348, 0.3029, 0.0710]
height = 0.1913

for i in range(4):
    ax_l = fig.add_axes([0.0768, bottoms[i], 0.4145, height])
    ax_r = fig.add_axes([0.5733, bottoms[i], 0.4159, height])

    hjd, mag = light_curves[i]
    draw_points(ax_l, hjd, mag, mag_err[i])
    ph, pmag = wrap_phase(*folded[i])
    draw_points(ax_r, ph, pmag, mag_err[i])

    style_axes(ax_l, lc_ticks[i])
    style_axes(ax_r, fold_ticks[i])
    ax_l.set_xlim(2010, 4960)
    ax_r.set_xlim(-0.2, 0.995)

    for ax in (ax_l, ax_r):
        ax.set_title(titles[i], fontsize=15.5, pad=5)
        ax.text(0.02, 0.005, coords[i], transform=ax.transAxes, color="blue",
                fontsize=14, ha="left", va="bottom")
    ax_r.text(0.747, 0.005, f"P = {periods[i]}", transform=ax_r.transAxes,
              color="red", fontsize=14, ha="left", va="bottom", clip_on=False)

    if i < 3:
        ax_l.set_xticks([])
        ax_r.set_xticks([])
    else:
        ax_l.set_xticks(hjd_ticks)
        ax_r.set_xticks(phase_ticks)
        ax_r.set_xticklabels([f"{t:.1f}".replace("-", "\u2212") for t in phase_ticks])
        for ax in (ax_l, ax_r):
            ax.grid(True, axis="x", color="k", linewidth=0.8,
                    linestyle=(0, (3, 2, 1, 2)))
        ax_l.set_xlabel("HJD-2450000", fontsize=15, labelpad=2)
        ax_r.set_xlabel("Phase", fontsize=15, labelpad=2)

fig.savefig("out.png", dpi=100)
